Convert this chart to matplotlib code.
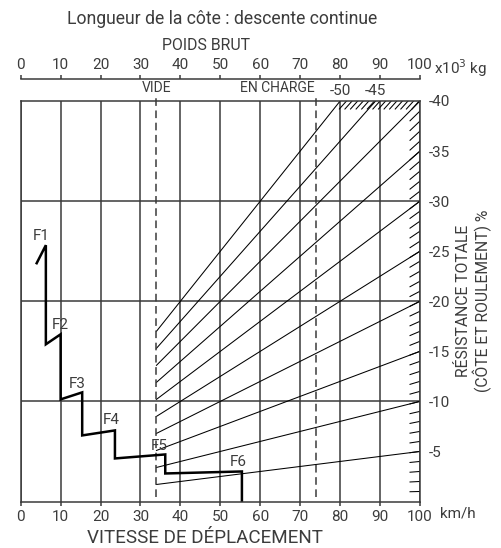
import numpy as np
import matplotlib.pyplot as plt

plt.rcParams['font.family'] = ['Roboto', 'DejaVu Sans']

# total resistance lines (%), drawn from the empty weight to the right edge
resistance = [-5, -10, -15, -20, -25, -30, -35, -40, -45, -50]
empty_weight = 34    # VIDE, x10^3 kg
loaded_weight = 74   # EN CHARGE, x10^3 kg

# retarder curve, speed (km/h) vs resistance (%)
curve_speed = [4.0, 6.3, 6.3, 10.0, 10.0, 15.4, 15.4, 23.6, 23.6, 36.2, 36.2, 55.4, 55.4]
curve_value = [-23.8, -25.6, -15.7, -16.7, -10.2, -10.9, -6.6, -7.1, -4.3, -4.7, -2.8, -3.0, 0]

gear_labels = ['F1', 'F2', 'F3', 'F4', 'F5', 'F6']
gear_x = [5.2, 9.8, 14.2, 22.8, 34.8, 54.5]
gear_y = [-26.5, -17.6, -11.7, -8.1, -5.5, -3.9]

x_ticks = list(range(0, 101, 10))
right_ticks = [-40, -35, -30, -25, -20, -15, -10, -5]
h_grid = [-10, -20, -30]

W, H = 502, 548
txt = '#3c3c3c'
edge = '#3a3a3a'
fs = 11

fig = plt.figure(figsize=(W / 100, H / 100), dpi=100)
ax = fig.add_axes([20.7 / W, (H - 501.5) / H, (420 - 20.7) / W, 400.5 / H])
ax.set_xlim(0, 100)
ax.set_ylim(0, -40)

for s in ax.spines.values():
    s.set_color(edge)
    s.set_linewidth(1.1)

# grid
ax.set_xticks(x_ticks)
ax.grid(axis='x', color=edge, linewidth=1.1)
for y in h_grid:
    ax.axhline(y, color=edge, linewidth=1.1)

# bottom axis
ax.tick_params(axis='x', direction='out', length=3, width=1.1, color=edge,
               labelsize=fs, labelcolor=txt, pad=3)

# right axis
ax.yaxis.tick_right()
ax.set_yticks(right_ticks)
ax.set_yticklabels([str(v) for v in right_ticks])
ax.tick_params(axis='y', length=0, labelsize=fs, labelcolor=txt, pad=6)

# top weight axis
sec = ax.secondary_xaxis(1.055)
sec.set_xticks(x_ticks)
sec.spines['top'].set_color(edge)
sec.spines['top'].set_linewidth(1.1)
sec.tick_params(direction='out', length=3, width=1.1, color=edge,
                labelsize=fs, labelcolor=txt, pad=2)

# resistance lines through the origin of the weight scale
for r in resistance:
    x_end = min(100, 4000 / abs(r))
    xs = np.array([empty_weight, x_end])
    ax.plot(xs, r * xs / 100, color='black', linewidth=0.75)
    if abs(r) > 40:
        ax.text(x_end, -41.0, str(r), ha='center', va='center',
                fontsize=fs, color=txt, clip_on=False)

# short marks along the right edge, one per percent
for r in range(1, 40):
    xs = np.array([97.5, 100])
    ax.plot(xs, -r * xs / 100, color='black', linewidth=0.75)

# hatch along the top edge beyond -40
for x0 in np.arange(81.6, 100, 1.4):
    ax.plot([x0 - 1.8, x0], [-39.2, -40], color='black', linewidth=0.75)

# empty / loaded weight markers
for xw in [empty_weight, loaded_weight]:
    ax.plot([xw, xw], [-0.4, -40.6], color=edge, linewidth=1.1,
            dashes=(5, 3), clip_on=False)
ax.text(empty_weight, -41.25, 'VIDE', ha='center', va='center',
        fontsize=10, color=txt, clip_on=False)
ax.text(loaded_weight - 0.3, -41.25, 'EN CHARGE', ha='right', va='center',
        fontsize=10, color=txt, clip_on=False)

# retarder curve
ax.plot(curve_speed, curve_value, color='black', linewidth=1.8,
        solid_joinstyle='miter')
for lab, x, y in zip(gear_labels, gear_x, gear_y):
    ax.text(x, y, lab, ha='center', va='center', fontsize=fs, color=txt)

# titles and units
fig.text(222 / W, 1 - 19 / H, 'Longueur de la côte : descente continue',
         ha='center', va='center', fontsize=12.7, color=txt)
fig.text(206 / W, 1 - 46 / H, 'POIDS BRUT', ha='center', va='center',
         fontsize=11.4, color=txt)
fig.text(434 / W, 1 - 68 / H, 'x10$^3$ kg', ha='left', va='center',
         fontsize=fs, color=txt)
fig.text(440 / W, 1 - 514 / H, 'km/h', ha='left', va='center',
         fontsize=fs, color=txt)
fig.text(205 / W, 1 - 538 / H, 'VITESSE DE DÉPLACEMENT', ha='center',
         va='center', fontsize=13.6, color=txt)
fig.text(474 / W, 1 - 301 / H, 'RÉSISTANCE TOTALE\n(CÔTE ET ROULEMENT) %',
         ha='center', va='center', rotation=90, fontsize=11.3, color=txt,
         linespacing=1.05)

fig.savefig('out.png', dpi=100)
